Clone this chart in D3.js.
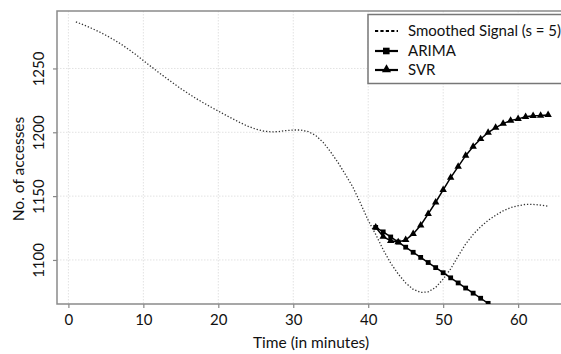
<!DOCTYPE html>
<html>
<head>
<meta charset="utf-8">
<script src="https://cdn.jsdelivr.net/npm/d3@7"></script>
<style>
  html, body { margin: 0; padding: 0; background: #fff; }
  svg { display: block; }
  text { font-family: Lato, "Open Sans", sans-serif; fill: #111; }
</style>
</head>
<body>
<svg id="chart" width="561" height="354"></svg>
<script>
// Time axis (minutes)
const smoothTime = d3.range(1, 65);
const forecastTime = d3.range(41, 65);
const arimaTime = d3.range(41, 58);

// Smoothed access counts, s = 5
const smoothed = [
  1286.5, 1284.2, 1281.7, 1279, 1276, 1272.7, 1269.1, 1265.1, 1260.8, 1256.2,
  1251.6, 1247.1, 1242.7, 1238.4, 1234.2, 1230.3, 1226.6, 1223.1, 1219.8, 1216.6,
  1213.4, 1210.3, 1207.3, 1204.6, 1202.5, 1201, 1200.3, 1200.5, 1201.3, 1201.8,
  1201.8, 1200.5, 1197.5, 1192, 1184.5, 1176, 1166.5, 1156.5, 1144, 1131,
  1120, 1108, 1097.5, 1089, 1082, 1077, 1074.5, 1075, 1078.5, 1085,
  1093, 1103, 1112.5, 1120, 1126, 1131, 1135, 1138.5, 1141, 1142.5,
  1143.5, 1143.5, 1143, 1142
];

// ARIMA forecast
const arima = [
  1125.5, 1122, 1118, 1114, 1110, 1106, 1102, 1098, 1094, 1090,
  1086, 1082, 1078, 1074, 1070, 1066, 1062
];

// SVR forecast
const svr = [
  1125.5, 1118.3, 1115, 1114, 1115.7, 1120.4, 1127.2, 1136.1, 1145.2, 1154.9,
  1164.5, 1173.1, 1181.7, 1188.8, 1194.8, 1199.8, 1203.7, 1206.8, 1209.2, 1210.5,
  1212.1, 1212.9, 1213.1, 1213.6
];

const xTicks = [0, 10, 20, 30, 40, 50, 60];
const yTicks = [1100, 1150, 1200, 1250];
const legendLabels = ["Smoothed Signal (s = 5)", "ARIMA", "SVR"];

const svg = d3.select("#chart");
const plot = { left: 57, top: 11, right: 567, bottom: 304 };

const x = d3.scaleLinear().domain([-1.52, 66.52]).range([plot.left, plot.right]);
const y = d3.scaleLinear().domain([1065.5, 1295]).range([plot.bottom, plot.top]);

svg.append("defs").append("clipPath").attr("id", "plotClip")
  .append("rect")
  .attr("x", plot.left).attr("y", plot.top)
  .attr("width", plot.right - plot.left).attr("height", plot.bottom - plot.top);

// Grid
const grid = svg.append("g").attr("stroke", "#e2e2e2").attr("stroke-width", 1)
  .attr("stroke-dasharray", "1.5,1.5");
grid.selectAll("line.gx").data(xTicks).join("line")
  .attr("x1", d => x(d)).attr("x2", d => x(d))
  .attr("y1", plot.top).attr("y2", plot.bottom);
grid.selectAll("line.gy").data(yTicks).join("line")
  .attr("y1", d => y(d)).attr("y2", d => y(d))
  .attr("x1", plot.left).attr("x2", plot.right);

// Axes
const xAxis = svg.append("g")
  .attr("transform", `translate(0,${plot.bottom})`)
  .call(d3.axisBottom(x).tickValues(xTicks).tickFormat(d3.format("d"))
    .tickSize(4).tickPadding(6));
const yAxis = svg.append("g")
  .attr("transform", `translate(${plot.left},0)`)
  .call(d3.axisLeft(y).tickValues(yTicks).tickFormat(d3.format("d"))
    .tickSize(4).tickPadding(6));
[xAxis, yAxis].forEach(a => {
  a.select(".domain").remove();
  a.selectAll(".tick line").attr("stroke", "#888").attr("stroke-width", 1.2);
  a.selectAll(".tick text").style("font-family", "Lato, sans-serif")
    .style("font-size", "15px").attr("fill", "#111");
});
// Vertical tick labels on the count axis
yAxis.selectAll(".tick text")
  .attr("text-anchor", "middle")
  .attr("transform", "rotate(-90)")
  .attr("x", 0)
  .attr("y", -13)
  .attr("dy", "0");

// Frame
svg.append("rect")
  .attr("x", plot.left).attr("y", plot.top)
  .attr("width", plot.right - plot.left).attr("height", plot.bottom - plot.top)
  .attr("fill", "none").attr("stroke", "#8a8a8a").attr("stroke-width", 1.5);

// Axis titles
svg.append("text")
  .attr("x", 311).attr("y", 348)
  .attr("text-anchor", "middle").style("font-size", "15.5px")
  .text("Time (in minutes)");
svg.append("text")
  .attr("transform", `translate(24,169) rotate(-90)`)
  .attr("text-anchor", "middle").style("font-size", "15.5px")
  .text("No. of accesses");

const data = svg.append("g").attr("clip-path", "url(#plotClip)");

const line = d3.line().x(d => x(d[0])).y(d => y(d[1])).curve(d3.curveLinear);

// Smoothed signal
data.append("path")
  .datum(smoothTime.map((t, i) => [t, smoothed[i]]))
  .attr("d", line)
  .attr("fill", "none").attr("stroke", "#333").attr("stroke-width", 1.3)
  .attr("stroke-dasharray", "1.3,1.9");

// ARIMA
const arimaPts = arimaTime.map((t, i) => [t, arima[i]]);
data.append("path").datum(arimaPts).attr("d", line)
  .attr("fill", "none").attr("stroke", "#000").attr("stroke-width", 1.5);
data.selectAll("rect.arima").data(arimaPts).join("rect")
  .attr("class", "arima")
  .attr("x", d => x(d[0]) - 2.4).attr("y", d => y(d[1]) - 2.4)
  .attr("width", 4.8).attr("height", 4.8).attr("fill", "#000");

// SVR
const svrPts = forecastTime.map((t, i) => [t, svr[i]]);
data.append("path").datum(svrPts).attr("d", line)
  .attr("fill", "none").attr("stroke", "#000").attr("stroke-width", 1.5);
const tri = d3.symbol().type(d3.symbolTriangle).size(24);
data.selectAll("path.svr").data(svrPts).join("path")
  .attr("class", "svr")
  .attr("transform", d => `translate(${x(d[0])},${y(d[1])})`)
  .attr("d", tri).attr("fill", "#000");

// Legend
const lg = svg.append("g");
lg.append("rect")
  .attr("x", 368).attr("y", 14.5).attr("width", 260).attr("height", 69)
  .attr("fill", "#fff").attr("stroke", "#777").attr("stroke-width", 1.5);
const rows = [31, 51, 70];
legendLabels.forEach((lab, i) => {
  const ry = rows[i];
  const seg = lg.append("line")
    .attr("x1", 375).attr("x2", 398).attr("y1", ry).attr("y2", ry)
    .attr("stroke", "#000");
  if (i === 0) {
    seg.attr("stroke-width", 2).attr("stroke-dasharray", "3.2,2.2");
  } else {
    seg.attr("stroke-width", 2.2);
  }
  if (i === 1) {
    lg.append("rect").attr("x", 383).attr("y", ry - 3.3)
      .attr("width", 6.6).attr("height", 6.6).attr("fill", "#000");
  }
  if (i === 2) {
    lg.append("path").attr("transform", `translate(386.5,${ry - 0.5})`)
      .attr("d", d3.symbol().type(d3.symbolTriangle).size(36)).attr("fill", "#000");
  }
  lg.append("text").attr("x", 408).attr("y", ry + 5)
    .style("font-size", "15px").text(lab);
});
</script>
</body>
</html>
